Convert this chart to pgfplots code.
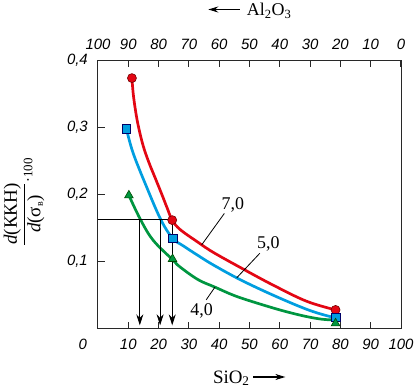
\documentclass[border=0pt]{standalone}
\usepackage{fontspec}
\setmainfont{Liberation Serif}
\newfontfamily\arialfont{Liberation Sans}
\usepackage{amsmath}
\usepackage{pgfplots}
\pgfplotsset{compat=1.18}
\usetikzlibrary{arrows.meta,calc}
\definecolor{cred}{RGB}{227,6,19}
\definecolor{cblue}{RGB}{0,158,224}
\definecolor{cgreen}{RGB}{0,150,64}
\definecolor{axcol}{RGB}{40,40,40}
\pgfplotsset{
  common/.style={scale only axis, width=303bp, height=268bp,
    xmin=0, xmax=100, ymin=0, ymax=0.4,
    tick align=inside, major tick length=6.5bp,
    axis line style={line width=1bp, axcol},
    tick style={line width=1bp, axcol},
    tick label style={font=\arialfont\itshape\fontsize{15}{15}\selectfont, inner sep=0pt},
  }
}
\begin{document}
\begin{tikzpicture}
\begin{axis}[common, name=ax,
  xtick={0,10,20,30,40,50,60,70,80,90,100},
  xticklabels={\makebox[0pt][r]{0\hspace{11bp}},10,20,30,40,50,60,70,80,90,100},
  ytick={0.1,0.2,0.3,0.4}, yticklabels={{0,1},{0,2},{0,3},{0,4}},
  xtick pos=lower, ytick pos=left,
  xticklabel style={yshift=-11bp}, yticklabel style={xshift=-10bp},
  clip=false]
% curves
\addplot[cred, line width=2.7bp, smooth, tension=0.6] coordinates {
 (11.2,0.373) (11.64,0.349) (12.47,0.322) (13.45,0.2985) (14.93,0.2716) (16.74,0.2478)
 (18.88,0.2239) (21.02,0.2000) (22.83,0.1791) (24.5,0.161)
 (27.1,0.147) (33.0,0.128) (38.0,0.113) (47.5,0.089) (57.8,0.064) (68.8,0.040) (78.4,0.027)};
\addplot[cblue, line width=2.7bp, smooth, tension=0.6] coordinates {
 (9.4,0.297) (11.6,0.261) (16.0,0.211) (20.7,0.162) (24.6,0.134) (28.0,0.123)
 (33.1,0.108) (38.1,0.094) (47.0,0.072) (57.8,0.049) (68.8,0.028) (75.8,0.018) (78.4,0.016)};
\addplot[cgreen, line width=2.7bp, smooth, tension=0.6] coordinates {
 (10.2,0.198) (14.0,0.162) (18.2,0.131) (24.6,0.102) (27.1,0.091) (33.1,0.072)
 (38.6,0.061) (44.1,0.050) (49.1,0.042) (57.7,0.030) (63.3,0.023) (68.9,0.017) (74.1,0.013) (78.4,0.012)};
% guide lines
\addplot[black, line width=0.9bp] coordinates {(0,0.162) (24.5,0.162)};
\addplot[black, line width=0.9bp, -{Stealth[length=11bp,width=7bp]}] coordinates {(13.8,0.162) (13.8,0.004)};
\addplot[black, line width=0.9bp, -{Stealth[length=11bp,width=7bp]}] coordinates {(20.5,0.162) (20.5,0.004)};
\addplot[black, line width=0.9bp, -{Stealth[length=11bp,width=7bp]}] coordinates {(24.5,0.162) (24.5,0.004)};
% markers
\addplot[only marks, mark=*, mark size=4.5bp, mark options={fill=cred, draw=red!45!black, line width=0.6bp}]
 coordinates {(11.2,0.373) (24.5,0.161) (78.4,0.027)};
\addplot[only marks, mark=square*, mark size=4.3bp, mark options={fill=cblue, draw=blue!40!black, line width=0.6bp}]
 coordinates {(9.4,0.297) (24.6,0.134) (78.4,0.016)};
\addplot[only marks, mark=triangle*, mark size=5bp, mark options={fill=cgreen, draw=green!30!black, line width=0.6bp}]
 coordinates {(10.2,0.198) (24.6,0.103) (78.4,0.007)};
% curve labels
\draw[black, line width=0.8bp] (axis cs:41.7,0.171) -- (axis cs:34.2,0.124);
\draw[black, line width=0.8bp] (axis cs:53.4,0.1115) -- (axis cs:45.8,0.075);
\draw[black, line width=0.8bp] (axis cs:35.7,0.042) -- (axis cs:38.6,0.061);
\node[font=\fontsize{18}{18}\selectfont] at (axis cs:44.5,0.183) {7,0};
\node[font=\fontsize{18}{18}\selectfont] at (axis cs:56.2,0.126) {5,0};
\node[font=\fontsize{18}{18}\selectfont] at (axis cs:34.2,0.025) {4,0};
\end{axis}
\begin{axis}[common, x dir=reverse, hide y axis,
  xtick={0,10,20,30,40,50,60,70,80,90,100},
  xticklabels={0,10,20,30,40,50,60,70,80,90,100},
  xtick pos=upper, xticklabel pos=upper,
  xticklabel style={yshift=10bp}]
\addplot[draw=none] coordinates {(0,0)};
\end{axis}
% axis titles
\node[anchor=base, font=\fontsize{19}{19}\selectfont, inner sep=0pt] at ($(ax.south)+(0,-55bp)$)
 {SiO\textsubscript{2}\,\tikz[baseline=-6bp]\draw[line width=1.2bp, -{Stealth[length=10bp,width=6bp]}] (0,0)--(32bp,0);};
\node[anchor=base, font=\fontsize{18}{18}\selectfont, inner sep=0pt] at ($(ax.north)+(0,44.5bp)$)
 {\tikz[baseline=-6bp]\draw[line width=1.2bp, {Stealth[length=10bp,width=6bp]}-] (0,0)--(32bp,0);\,\,Al\textsubscript{2}O\textsubscript{3}};
\node[rotate=90, font=\fontsize{19}{19}\selectfont, inner sep=0pt] at ($(ax.west)+(-74bp,-8bp)$)
 {$\displaystyle\frac{\mbox{\textit{d}(ККН)}}{\mbox{\textit{d}(σ\textsubscript{\fontsize{10}{10}\selectfont в})}}\raisebox{-0.2em}{$\cdot$\fontsize{13}{13}\selectfont 100}$};
\pgfresetboundingbox
\path ($(ax.south west)+(-98bp,-60bp)$) rectangle ($(ax.north east)+(15bp,60bp)$);
\end{tikzpicture}
\end{document}
